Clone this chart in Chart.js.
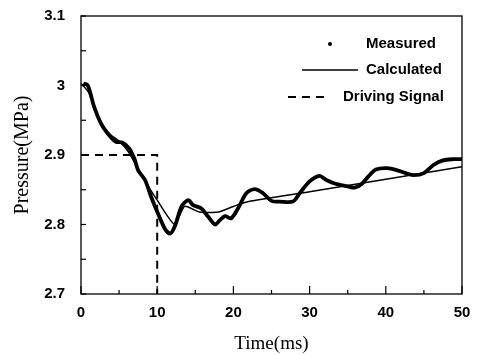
<!DOCTYPE html>
<html>
<head>
<meta charset="utf-8">
<script src="https://cdn.jsdelivr.net/npm/chart.js@4"></script>
<style>
  body { margin: 0; background: #fff; }
  #wrap { width: 481px; height: 355px; }
</style>
</head>
<body>
<div id="wrap"><canvas id="grafico"></canvas></div>
<script>
// dados
const tempoMedido = [0.3, 0.9, 1.7, 2.6, 3.5, 4.6, 5.4, 6.3, 7.0, 7.5, 8.4, 9.2, 10.1, 11.0, 11.7, 12.3, 13.2, 14.1, 14.7, 15.8, 16.7, 17.6, 18.2, 18.9, 19.7, 20.6, 21.7, 22.8, 23.9, 25.0, 26.1, 27.8, 28.7, 30.0, 31.3, 32.2, 33.3, 35.0, 35.9, 36.8, 37.7, 38.7, 40.2, 41.5, 42.6, 43.7, 45.0, 46.3, 47.4, 48.9, 50.0];
const pressaoMedida = [3.003, 3.0, 2.97, 2.946, 2.931, 2.919, 2.918, 2.91, 2.895, 2.878, 2.864, 2.84, 2.816, 2.794, 2.787, 2.797, 2.826, 2.835, 2.828, 2.823, 2.811, 2.80, 2.806, 2.812, 2.809, 2.823, 2.845, 2.851, 2.845, 2.834, 2.833, 2.833, 2.845, 2.862, 2.87, 2.864, 2.859, 2.855, 2.853, 2.858, 2.869, 2.879, 2.881, 2.878, 2.874, 2.871, 2.874, 2.886, 2.892, 2.894, 2.894];

const tempoCalculado = [0, 1, 2, 3, 4, 5, 6.2, 8, 10, 12.3, 13.6, 15.5, 18, 20, 22, 30, 40, 50];
const pressaoCalculada = [3.003, 2.99, 2.96, 2.94, 2.928, 2.92, 2.905, 2.87, 2.835, 2.8, 2.826, 2.818, 2.818, 2.826, 2.833, 2.847, 2.865, 2.883];

const tempoSinal = [0, 10, 10];
const pressaoSinal = [2.9, 2.9, 2.7];

const legendaTextos = ["Measured", "Calculated", "Driving Signal"];

function pontos(xs, ys) {
    return xs.map((x, i) => ({ x: x, y: ys[i] }));
}

// ticks para dentro, moldura e legenda
const extras = {
    id: "extras",
    afterDraw(chart) {
        const ctx = chart.ctx;
        const a = chart.chartArea;
        const sx = chart.scales.x;
        const sy = chart.scales.y;
        ctx.save();
        ctx.strokeStyle = "#000";
        ctx.lineWidth = 1.3;
        ctx.strokeRect(a.left, a.top, a.right - a.left, a.bottom - a.top);

        ctx.lineWidth = 1.2;
        sx.ticks.forEach(t => {
            const px = sx.getPixelForValue(t.value);
            const len = t.value % 10 === 0 ? 8 : 4;
            ctx.beginPath();
            ctx.moveTo(px, a.bottom);
            ctx.lineTo(px, a.bottom - len);
            ctx.stroke();
        });
        sy.ticks.forEach(t => {
            const py = sy.getPixelForValue(t.value);
            ctx.beginPath();
            ctx.moveTo(a.left, py);
            ctx.lineTo(a.left + 5, py);
            ctx.stroke();
        });

        // legenda
        ctx.fillStyle = "#000";
        ctx.font = "bold 15px 'Liberation Sans', Arial, sans-serif";
        ctx.textBaseline = "middle";
        ctx.textAlign = "left";
        ctx.beginPath();
        ctx.arc(330, 44, 2, 0, Math.PI * 2);
        ctx.fill();
        ctx.fillText(legendaTextos[0], 366, 44);

        ctx.lineWidth = 1.5;
        ctx.beginPath();
        ctx.moveTo(302, 70);
        ctx.lineTo(358, 70);
        ctx.stroke();
        ctx.fillText(legendaTextos[1], 366, 70);

        ctx.lineWidth = 2;
        ctx.setLineDash([8, 6]);
        ctx.beginPath();
        ctx.moveTo(288, 97);
        ctx.lineTo(324, 97);
        ctx.stroke();
        ctx.setLineDash([]);
        ctx.fillText(legendaTextos[2], 343, 97);
        ctx.restore();
    }
};

const ctx = document.getElementById("grafico").getContext("2d");

new Chart(ctx, {
    type: "line",
    data: {
        datasets: [{
            label: legendaTextos[0],
            data: pontos(tempoMedido, pressaoMedida),
            borderColor: "#000",
            borderWidth: 3.8,
            pointRadius: 0,
            tension: 0.3,
        }, {
            label: legendaTextos[1],
            data: pontos(tempoCalculado, pressaoCalculada),
            borderColor: "#000",
            borderWidth: 1.5,
            pointRadius: 0,
            tension: 0.2,
        }, {
            label: legendaTextos[2],
            data: pontos(tempoSinal, pressaoSinal),
            borderColor: "#000",
            borderWidth: 2,
            borderDash: [8, 6],
            pointRadius: 0,
        }],
    },
    options: {
        responsive: true,
        maintainAspectRatio: false,
        animation: false,
        layout: {
            padding: { top: 16, right: 19, left: 0, bottom: 0 },
        },
        plugins: {
            legend: { display: false },
            tooltip: { enabled: false },
        },
        scales: {
            x: {
                type: "linear",
                min: 0,
                max: 50,
                border: { display: false },
                grid: { drawOnChartArea: false, drawTicks: false },
                ticks: {
                    stepSize: 5,
                    padding: 10,
                    color: "#000",
                    font: { family: "'Liberation Sans', Arial, sans-serif", size: 15, weight: "bold" },
                    callback: v => (v % 10 === 0 ? v : ""),
                },
                title: {
                    display: true,
                    text: "Time(ms)",
                    color: "#000",
                    padding: { top: 2, bottom: 0 },
                    font: { family: "'Liberation Serif', 'Times New Roman', serif", size: 19 },
                },
                afterFit: s => { s.height = 61; s.paddingLeft = 0; s.paddingRight = 0; },
            },
            y: {
                min: 2.7,
                max: 3.1,
                border: { display: false },
                grid: { drawOnChartArea: false, drawTicks: false },
                ticks: {
                    stepSize: 0.05,
                    padding: 16,
                    color: "#000",
                    font: { family: "'Liberation Sans', Arial, sans-serif", size: 15, weight: "bold" },
                    callback: v => {
                        const r = Math.round(v * 100);
                        if (r % 10 !== 0) return "";
                        return r === 300 ? "3" : (r / 100).toFixed(1);
                    },
                },
                title: {
                    display: true,
                    text: "Pressure(MPa)",
                    color: "#000",
                    padding: { top: 11, bottom: 0 },
                    font: { family: "'Liberation Serif', 'Times New Roman', serif", size: 20 },
                },
                afterFit: s => { s.width = 81; s.paddingTop = 0; s.paddingBottom = 0; },
            },
        },
    },
    plugins: [extras],
});
</script>
</body>
</html>
